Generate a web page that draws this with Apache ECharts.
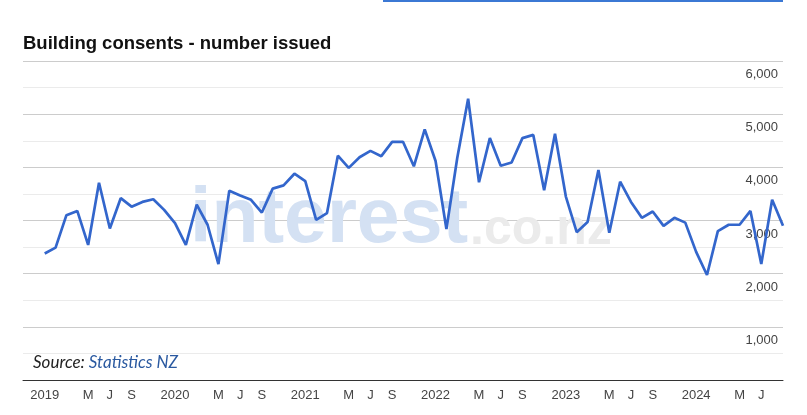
<!DOCTYPE html>
<html>
<head>
<meta charset="utf-8">
<script src="https://cdn.jsdelivr.net/npm/echarts@6/dist/echarts.min.js"></script>
<style>
  html, body { margin: 0; padding: 0; background: #fff; }
  #chart { width: 807px; height: 415px; }
</style>
</head>
<body>
<div id="chart"></div>
<script>
// Axis starts Nov 2018 (two empty months) and ends Sep 2024
const startYear = 2018, startMonth = 11;
const monthCount = 71;
const categories = [];
for (let i = 0; i < monthCount; i++) {
  const mIdx = (startMonth - 1 + i);
  const y = startYear + Math.floor(mIdx / 12);
  const m = (mIdx % 12) + 1;
  categories.push(y + '-' + (m < 10 ? '0' : '') + m);
}

// Monthly building consents issued, Jan 2019 .. Sep 2024 (leading nulls = Nov/Dec 2018)
const consents = [
  null, null,
  2380, 2490, 3100, 3180, 2540, 3710, 2850, 3420, 3260, 3350, 3400, 3200,
  2950, 2540, 3300, 2920, 2180, 3560, 3470, 3390, 3150, 3600, 3660, 3880,
  3740, 3010, 3140, 4220, 3990, 4190, 4310, 4210, 4480, 4480, 4020, 4715,
  4120, 2840, 4180, 5290, 3720, 4550, 4030, 4090, 4550, 4610, 3570, 4630,
  3450, 2780, 2970, 3950, 2770, 3730, 3350, 3050, 3170, 2900, 3050, 2960,
  2410, 1975, 2800, 2920, 2920, 3180, 2180, 3390, 2900
];

// x tick labels: month number -> label ('Y' = show year)
const tickMonths = ['01', '05', '07', '09'];
const tickTexts = ['Y', 'M', 'J', 'S'];
const lastCategory = '2024-09';

// y axis
const yMin = 0, yMax = 6000, yStep = 500, yLabelStep = 1000;

function tickLabel(value) {
  if (value === lastCategory) return '';
  const parts = value.split('-');
  const k = tickMonths.indexOf(parts[1]);
  if (k < 0) return '';
  if (value < categories[2]) return '';
  return tickTexts[k] === 'Y' ? parts[0] : tickTexts[k];
}

const chart = echarts.init(document.getElementById('chart'), null, { renderer: 'canvas' });
chart.setOption({
  animation: false,
  backgroundColor: '#ffffff',
  title: {
    text: 'Building consents - number issued',
    left: 23,
    top: 34,
    padding: 0,
    textStyle: {
      fontFamily: 'Liberation Sans, Arial, sans-serif',
      fontWeight: 'bold',
      fontSize: 18.5,
      color: '#111'
    }
  },
  grid: { left: 23, right: 24, top: 61, bottom: 35, containLabel: false },
  xAxis: {
    type: 'category',
    data: categories,
    boundaryGap: false,
    axisLine: { show: true, lineStyle: { color: '#333', width: 1 } },
    axisTick: { show: false },
    splitLine: { show: false },
    axisLabel: {
      interval: 0,
      margin: 9,
      color: '#444',
      fontSize: 13,
      fontFamily: 'Liberation Sans, Arial, sans-serif',
      formatter: tickLabel
    }
  },
  yAxis: {
    type: 'value',
    position: 'right',
    min: yMin,
    max: yMax,
    interval: yStep,
    axisLine: { show: false },
    axisTick: { show: false },
    axisLabel: {
      inside: true,
      margin: 5,
      color: '#444',
      fontSize: 13,
      fontFamily: 'Liberation Sans, Arial, sans-serif',
      verticalAlign: 'top',
      padding: [7, 0, 0, 0],
      formatter: function (v) {
        if (v === 0 || v % yLabelStep !== 0) return '';
        return v.toLocaleString('en-US');
      }
    },
    splitLine: { show: true, lineStyle: { color: ['#cccccc', '#ebebeb'], width: 1 } }
  },
  graphic: [
    {
      type: 'rect',
      shape: { x: 383, y: 0, width: 400, height: 2 },
      style: { fill: '#3b78d4' },
      silent: true
    },
    {
      type: 'text',
      x: 190,
      y: 221,
      z: 1,
      silent: true,
      style: {
        text: 'interest',
        font: 'bold 77px Liberation Sans, Arial, sans-serif',
        fill: '#d4e1f3',
        align: 'left',
        verticalAlign: 'middle'
      }
    },
    {
      type: 'text',
      x: 470,
      y: 230,
      z: 1,
      silent: true,
      style: {
        text: '.co.nz',
        font: 'bold 50px Liberation Sans, Arial, sans-serif',
        fill: '#ebebeb',
        align: 'left',
        verticalAlign: 'middle'
      }
    },
    {
      type: 'text',
      left: 33,
      top: 354,
      silent: true,
      style: {
        text: '{a|Source: }{b|Statistics NZ}',
        rich: {
          a: { fontSize: 17, fontStyle: 'italic', fontFamily: 'Lato, sans-serif', fill: '#222', color: '#222' },
          b: { fontSize: 17, fontStyle: 'italic', fontFamily: 'Lato, sans-serif', fill: '#2a59a0', color: '#2a59a0' }
        }
      }
    }
  ],
  series: [{
    type: 'line',
    data: consents,
    showSymbol: false,
    connectNulls: false,
    z: 5,
    lineStyle: { color: '#3366cc', width: 2.7 },
    itemStyle: { color: '#3366cc' }
  }]
});
</script>
</body>
</html>
